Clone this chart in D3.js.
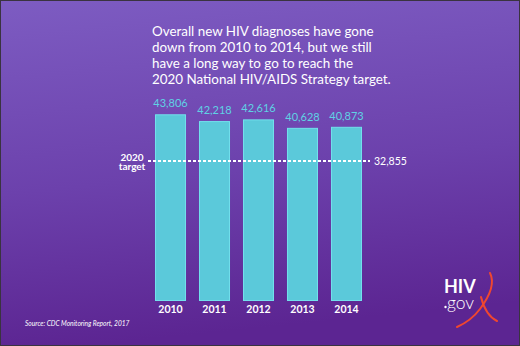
<!DOCTYPE html>
<html>
<head>
<meta charset="utf-8">
<script src="https://cdn.jsdelivr.net/npm/d3@7"></script>
<style>
  html, body { margin: 0; padding: 0; background: #fff; }
  svg { display: block; }
  text { font-family: Lato, "Open Sans", sans-serif; }
</style>
</head>
<body>
<svg id="chart" width="520" height="346"></svg>
<script>
// New HIV diagnoses by year
const years = ["2010", "2011", "2012", "2013", "2014"];
const diagnoses = [43806, 42218, 42616, 40628, 40873];
const target = 32855;
const targetLabel = ["2020", "target"];
const titleLines = [
  "Overall new HIV diagnoses have gone",
  "down from 2010 to 2014, but we still",
  "have a long way to go to reach the",
  "2020 National HIV/AIDS Strategy target."
];
const sourceNote = "Source: CDC Monitoring Report, 2017";

const W = 520, H = 346;
const svg = d3.select("#chart");

// background gradient
const defs = svg.append("defs");
const grad = defs.append("linearGradient")
  .attr("id", "bg").attr("x1", 0).attr("y1", 0).attr("x2", 0.15).attr("y2", 1);
grad.append("stop").attr("offset", "0%").attr("stop-color", "#7d5cc2");
grad.append("stop").attr("offset", "55%").attr("stop-color", "#6c41ac");
grad.append("stop").attr("offset", "100%").attr("stop-color", "#5c2592");

svg.append("rect").attr("width", W).attr("height", H).attr("fill", "url(#bg)");
svg.append("rect").attr("x", 0.5).attr("y", 0.5).attr("width", W - 1).attr("height", H - 1)
  .attr("fill", "none").attr("stroke", "#3a3340").attr("stroke-width", 1);

// title
const title = svg.append("text")
  .attr("x", 152).attr("y", 36)
  .attr("fill", "#ffffff")
  .attr("font-size", 13.4);
titleLines.forEach((line, i) => {
  title.append("tspan").attr("x", 152).attr("y", 36 + i * 16.1).text(line);
});

// scales
const x = d3.scaleBand().domain(years).range([155, 362]).paddingInner(0.295).paddingOuter(0);
const y = d3.scaleLinear().domain([0, 43806]).range([301, 114.3]);

// bars
svg.append("g").selectAll("rect")
  .data(years.map((yr, i) => ({ yr, v: diagnoses[i] })))
  .join("rect")
  .attr("x", d => x(d.yr) + 0.5)
  .attr("y", d => y(d.v) + 0.5)
  .attr("width", x.bandwidth() - 1)
  .attr("height", d => y(0) - y(d.v) - 1)
  .attr("fill", "#5bc9da")
  .attr("stroke", "#72e0ec")
  .attr("stroke-width", 1);

// value labels
svg.append("g").selectAll("text")
  .data(years.map((yr, i) => ({ yr, v: diagnoses[i] })))
  .join("text")
  .attr("x", d => x(d.yr) + x.bandwidth() / 2)
  .attr("y", d => y(d.v) - 7)
  .attr("text-anchor", "middle")
  .attr("fill", "#5fd2e4")
  .attr("font-size", 11)
  .text(d => d3.format(",")(d.v));

// x axis labels
const xAxis = d3.axisBottom(x).tickSize(0).tickPadding(0);
const gx = svg.append("g").attr("transform", `translate(0,${y(0)})`).call(xAxis);
gx.select(".domain").remove();
gx.selectAll("text")
  .attr("y", 12)
  .attr("dy", 0)
  .attr("fill", "#ffffff")
  .attr("font-size", 10.5)
  .attr("font-weight", "bold")
  .attr("font-family", "Lato, sans-serif");

// target line
const ty = y(target);
svg.append("line")
  .attr("x1", 148).attr("x2", 370)
  .attr("y1", ty).attr("y2", ty)
  .attr("stroke", "#ffffff").attr("stroke-width", 2)
  .attr("stroke-dasharray", "3,2");

svg.append("text")
  .attr("x", 374).attr("y", ty + 4)
  .attr("fill", "#ffffff").attr("font-size", 10.5)
  .text(d3.format(",")(target));

const tl = svg.append("text")
  .attr("text-anchor", "middle")
  .attr("fill", "#ffffff").attr("font-size", 10).attr("font-weight", "bold");
targetLabel.forEach((t, i) => {
  tl.append("tspan").attr("x", 132).attr("y", ty + 0.5 + i * 9).text(t);
});

// source note
svg.append("text")
  .attr("x", 25).attr("y", 326)
  .attr("fill", "#ffffff").attr("font-size", 6.6)
  .attr("font-style", "italic")
  .text(sourceNote);

// HIV.gov logo
const logo = svg.append("g");
logo.append("text").attr("x", 444).attr("y", 293)
  .attr("fill", "#ffffff").attr("font-size", 18).attr("font-weight", "bold")
  .text("HIV");
logo.append("text").attr("x", 447).attr("y", 309)
  .attr("fill", "#ffffff").attr("font-size", 17.5).attr("font-weight", 300)
  .text("gov");
logo.append("circle").attr("cx", 445.5).attr("cy", 307).attr("r", 1.2).attr("fill", "#ffffff");
logo.append("path")
  .attr("d", "M490,273 C495,283 489,297 480,309 C474,317 466,323 457,327")
  .attr("fill", "none").attr("stroke", "#f0472f").attr("stroke-width", 2).attr("stroke-linecap", "round");
logo.append("path")
  .attr("d", "M481,297 C484,309 489,317 497,321")
  .attr("fill", "none").attr("stroke", "#f0472f").attr("stroke-width", 2).attr("stroke-linecap", "round");
</script>
</body>
</html>
